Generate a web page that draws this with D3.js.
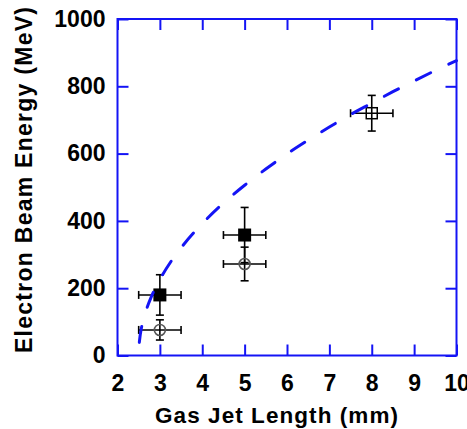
<!DOCTYPE html>
<html>
<head>
<meta charset="utf-8">
<script src="https://cdn.jsdelivr.net/npm/d3@7"></script>
<style>
  html, body { margin: 0; padding: 0; background: #fff; }
  svg { display: block; }
  text { font-family: "Liberation Sans", Arial, sans-serif; font-weight: bold; fill: #000; }
</style>
</head>
<body>
<svg id="chart" width="467" height="429"></svg>
<script>
// Measured beam energies (MeV) against gas jet length (mm)
const filledLength = [3, 5];
const filledEnergy = [180, 358];
const filledEnergyErr = [60, 82];

const circleLength = [3, 5];
const circleEnergy = [76, 272];
const circleEnergyErr = [30, 50];

const squareLength = [8];
const squareEnergy = [720];
const squareEnergyErr = [53];

const lengthErr = 0.5;

// Scaling curve (dashed)
const curveLength = [2.515, 2.53, 2.55, 2.6, 2.7, 2.8, 3.0, 3.25, 3.5, 4.0, 4.5, 5.0, 5.5, 6.0, 6.5, 7.0, 7.5, 8.0, 8.5, 9.0, 9.5, 10.0];
const curveEnergy = [39, 55, 72, 101, 143, 175, 226, 277, 320, 392, 453, 506, 554, 599, 640, 679, 716, 750, 784, 816, 847, 876];

const xTicks = [2, 3, 4, 5, 6, 7, 8, 9, 10];
const yTicks = [0, 200, 400, 600, 800, 1000];

const svg = d3.select("#chart");
const plotLeft = 117.5, plotRight = 456.5, plotTop = 19, plotBottom = 355.5;
const blue = "#1414f5";

const x = d3.scaleLinear().domain([2, 10]).range([plotLeft, plotRight]);
const y = d3.scaleLinear().domain([0, 1000]).range([plotBottom, plotTop]);

function styleAxis(g) {
  g.select(".domain").remove();
  g.selectAll(".tick line").attr("stroke", blue).attr("stroke-width", 2);
  g.selectAll(".tick text").attr("font-size", 23).attr("fill", "#000")
    .attr("font-family", "Liberation Sans, Arial, sans-serif").attr("font-weight", "bold");
}

svg.append("g").attr("transform", `translate(0,${plotBottom})`)
  .call(d3.axisBottom(x).tickValues(xTicks).tickSizeInner(-11).tickSizeOuter(0).tickPadding(19).tickFormat(d3.format("d")))
  .call(styleAxis);
svg.append("g").attr("transform", `translate(0,${plotTop})`)
  .call(d3.axisTop(x).tickValues(xTicks).tickSizeInner(-11).tickSizeOuter(0).tickFormat(""))
  .call(styleAxis);
svg.append("g").attr("transform", `translate(${plotLeft},0)`)
  .call(d3.axisLeft(y).tickValues(yTicks).tickSizeInner(-11).tickSizeOuter(0).tickPadding(12).tickFormat(d3.format("d")))
  .call(styleAxis);
svg.append("g").attr("transform", `translate(${plotRight},0)`)
  .call(d3.axisRight(y).tickValues(yTicks).tickSizeInner(-11).tickSizeOuter(0).tickFormat(""))
  .call(styleAxis);

// plot frame
svg.append("rect")
  .attr("x", plotLeft).attr("y", plotTop)
  .attr("width", plotRight - plotLeft).attr("height", plotBottom - plotTop)
  .attr("fill", "none").attr("stroke", blue).attr("stroke-width", 2);

// error bars with caps
function errorBars(lengths, energies, errs) {
  const g = svg.append("g").attr("stroke", "#000").attr("stroke-width", 1.6).attr("fill", "none");
  const cap = 4;
  lengths.forEach((L, i) => {
    const cx = x(L), cy = y(energies[i]);
    const x0 = x(L - lengthErr), x1 = x(L + lengthErr);
    const y0 = y(energies[i] - errs[i]), y1 = y(energies[i] + errs[i]);
    g.append("line").attr("x1", x0).attr("x2", x1).attr("y1", cy).attr("y2", cy);
    g.append("line").attr("x1", cx).attr("x2", cx).attr("y1", y0).attr("y2", y1);
    g.append("line").attr("x1", x0).attr("x2", x0).attr("y1", cy - cap).attr("y2", cy + cap);
    g.append("line").attr("x1", x1).attr("x2", x1).attr("y1", cy - cap).attr("y2", cy + cap);
    g.append("line").attr("x1", cx - cap).attr("x2", cx + cap).attr("y1", y0).attr("y2", y0);
    g.append("line").attr("x1", cx - cap).attr("x2", cx + cap).attr("y1", y1).attr("y2", y1);
  });
}
errorBars(filledLength, filledEnergy, filledEnergyErr);
errorBars(circleLength, circleEnergy, circleEnergyErr);
errorBars(squareLength, squareEnergy, squareEnergyErr);

// markers
const filledSize = 13;
svg.append("g").selectAll("rect").data(filledLength).join("rect")
  .attr("x", (d) => x(d) - filledSize / 2)
  .attr("y", (d, i) => y(filledEnergy[i]) - filledSize / 2)
  .attr("width", filledSize).attr("height", filledSize)
  .attr("fill", "#000");

svg.append("g").selectAll("circle").data(circleLength).join("circle")
  .attr("cx", (d) => x(d))
  .attr("cy", (d, i) => y(circleEnergy[i]))
  .attr("r", 5.5)
  .attr("fill", "none").attr("stroke", "#555").attr("stroke-width", 1.6);

const openSize = 11;
svg.append("g").selectAll("rect").data(squareLength).join("rect")
  .attr("x", (d) => x(d) - openSize / 2)
  .attr("y", (d, i) => y(squareEnergy[i]) - openSize / 2)
  .attr("width", openSize).attr("height", openSize)
  .attr("fill", "none").attr("stroke", "#000").attr("stroke-width", 1.5);

// dashed scaling curve
const line = d3.line().x((d) => x(d[0])).y((d) => y(d[1])).curve(d3.curveMonotoneX);
svg.append("path")
  .datum(curveLength.map((L, i) => [L, curveEnergy[i]]))
  .attr("d", line)
  .attr("fill", "none")
  .attr("stroke", blue)
  .attr("stroke-width", 3)
  .attr("stroke-linecap", "round")
  .attr("stroke-dasharray", "16,20");

// axis titles
svg.append("text")
  .attr("x", 276.5).attr("y", 422.5)
  .attr("text-anchor", "middle")
  .attr("font-size", 22.5)
  .attr("textLength", 243).attr("lengthAdjust", "spacing")
  .text("Gas Jet Length (mm)");

svg.append("text")
  .attr("transform", "translate(31.5,180) rotate(-90)")
  .attr("text-anchor", "middle")
  .attr("font-size", 23)
  .attr("textLength", 346).attr("lengthAdjust", "spacing")
  .text("Electron Beam Energy (MeV)");
</script>
</body>
</html>
